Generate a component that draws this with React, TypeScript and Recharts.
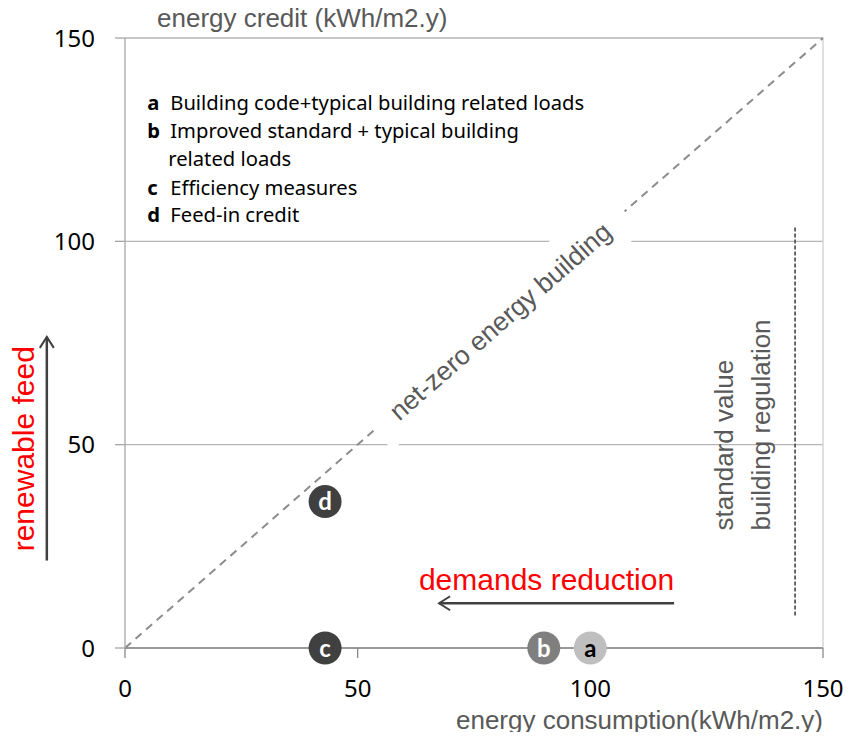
import { CartesianGrid, ReferenceDot, ReferenceLine, Scatter, ScatterChart, XAxis, YAxis } from "recharts";

// the four building cases
const cases = ["a", "b", "c", "d"];
const consumption = [100, 90, 43, 43]; // kWh/m2.y
const credit = [0, 0, 0, 36]; // kWh/m2.y

const xTicks = [0, 50, 100, 150];
const yTicks = [0, 50, 100, 150];

const legendKeys = ["a", "b", "", "c", "d"];
const legendTexts = [
  "Building code+typical building related loads",
  "Improved standard + typical building",
  "related loads",
  "Efficiency measures",
  "Feed-in credit",
];

// annotation anchors (data units)
const netZeroFrom = { x: 0, y: 0 };
const netZeroTo = { x: 150, y: 150 };
const netZeroLabelAt = 80.5;
const regulationX = 144;
const regulationRange = [8, 103.5];
const demandArrow = { from: 118, to: 67.5, y: 11 };
const feedArrow = { x: -16.8, from: 21.5, to: 76.5 };

const caseStyle: Record<string, { fill: string; text: string }> = {
  a: { fill: "#bfbfbf", text: "#000" },
  b: { fill: "#7f7f7f", text: "#fff" },
  c: { fill: "#404040", text: "#fff" },
  d: { fill: "#404040", text: "#fff" },
};

const data = cases.map((k, i) => ({ label: k, x: consumption[i], y: credit[i] }));

const sans = "'Liberation Sans', Arial, sans-serif";
const GRAY_TEXT = "#595959";

function CaseDot(props: any) {
  const { cx, cy, payload } = props;
  const s = caseStyle[payload.label];
  return (
    <g>
      <circle cx={cx} cy={cy} r={16.5} fill={s.fill} />
      <text
        x={cx}
        y={cy}
        dy="0.36em"
        textAnchor="middle"
        fill={s.text}
        fontFamily="Lato, sans-serif"
        fontWeight={700}
        fontSize={24}
      >
        {payload.label}
      </text>
    </g>
  );
}

function arrowHead(x: number, y: number, dx: number, dy: number) {
  // open chevron pointing in direction (dx, dy)
  const len = 11;
  const w = 7;
  const bx = x - dx * len;
  const by = y - dy * len;
  return `M${bx - dy * w},${by + dx * w} L${x},${y} L${bx + dy * w},${by - dx * w}`;
}

export default function App() {
  return (
    // pull the chart over the body margin so the texts near the edges have room
    <div style={{ margin: -8 }}>
      <ScatterChart
        width={862}
        height={740}
        margin={{ top: 38, right: 39, bottom: 0, left: 65 }}
        style={{ fontFamily: sans }}
      >
        <CartesianGrid vertical={false} stroke="#b5b5b5" strokeWidth={1.3} />
        <XAxis
          type="number"
          dataKey="x"
          domain={[0, 150]}
          ticks={xTicks}
          height={92}
          tickSize={10}
          tickMargin={22}
          axisLine={{ stroke: "#8a8a8a", strokeWidth: 1.3 }}
          tickLine={{ stroke: "#8a8a8a", strokeWidth: 1.3 }}
          tick={{ fill: "#000", fontSize: 24, fontFamily: "'Noto Sans', sans-serif" }}
          label={{
            content: ({ viewBox }: any) => (
              <text
                x={viewBox.x + viewBox.width}
                y={viewBox.y + 81}
                textAnchor="end"
                fill={GRAY_TEXT}
                fontSize={26}
                fontFamily={sans}
              >
                energy consumption(kWh/m2.y)
              </text>
            ),
          }}
        />
        <YAxis
          type="number"
          dataKey="y"
          domain={[0, 150]}
          ticks={yTicks}
          width={60}
          tickSize={10}
          tickMargin={20}
          axisLine={{ stroke: "#a6a6a6", strokeWidth: 1.3 }}
          tickLine={{ stroke: "#a6a6a6", strokeWidth: 1.3 }}
          tick={{ fill: "#000", fontSize: 24, fontFamily: "'Noto Sans', sans-serif" }}
          label={{
            content: ({ viewBox }: any) => (
              <text
                x={viewBox.x + viewBox.width + 32}
                y={viewBox.y - 11}
                fill={GRAY_TEXT}
                fontSize={26}
                fontFamily={sans}
              >
                energy credit (kWh/m2.y)
              </text>
            ),
          }}
        />

        {/* plot frame, right side */}
        <ReferenceLine x={150} stroke="#d0d0d0" strokeWidth={1.3} />

        {/* net-zero diagonal */}
        <ReferenceLine
          segment={[netZeroFrom, netZeroTo]}
          stroke="#8c8c8c"
          strokeWidth={2}
          strokeDasharray="8 6"
        />
        <ReferenceDot
          x={netZeroLabelAt}
          y={netZeroLabelAt}
          r={0}
          shape={(p: any) => {
            const angle = (-Math.atan2(610, 698) * 180) / Math.PI;
            return (
              <g transform={`rotate(${angle} ${p.cx} ${p.cy})`}>
                <rect x={p.cx - 166} y={p.cy - 27} width={332} height={54} fill="#fff" />
                <text
                  x={p.cx}
                  y={p.cy}
                  dy="0.38em"
                  textAnchor="middle"
                  fill={GRAY_TEXT}
                  fontSize={26.5}
                  fontFamily={sans}
                >
                  net-zero energy building
                </text>
              </g>
            );
          }}
        />

        {/* building regulation standard */}
        <ReferenceLine
          segment={[
            { x: regulationX, y: regulationRange[0] },
            { x: regulationX, y: regulationRange[1] },
          ]}
          stroke="#595959"
          strokeWidth={1.8}
          strokeDasharray="4 2"
          shape={(p: any) => (
            <g>
              <line
                x1={p.x1}
                y1={p.y1}
                x2={p.x2}
                y2={p.y2}
                stroke={p.stroke}
                strokeWidth={p.strokeWidth}
                strokeDasharray={p.strokeDasharray}
              />
              <text
                transform={`translate(${p.x1 - 62} ${p.y1 - 85}) rotate(-90)`}
                fill={GRAY_TEXT}
                fontSize={26}
                fontFamily={sans}
              >
                standard  value
              </text>
              <text
                transform={`translate(${p.x1 - 25} ${p.y1 - 85}) rotate(-90)`}
                fill={GRAY_TEXT}
                fontSize={26}
                fontFamily={sans}
              >
                building regulation
              </text>
            </g>
          )}
        />

        {/* demands reduction arrow */}
        <ReferenceLine
          segment={[
            { x: demandArrow.from, y: demandArrow.y },
            { x: demandArrow.to, y: demandArrow.y },
          ]}
          stroke="#404040"
          strokeWidth={2.5}
          shape={(p: any) => (
            <g>
              <line x1={p.x1} y1={p.y1} x2={p.x2} y2={p.y2} stroke={p.stroke} strokeWidth={p.strokeWidth} />
              <path d={arrowHead(p.x2, p.y2, -1, 0)} fill="none" stroke={p.stroke} strokeWidth={2} />
              <text x={p.x1} y={p.y1 - 13} textAnchor="end" fill="#ff0000" fontSize={30} fontFamily={sans}>
                demands reduction
              </text>
            </g>
          )}
        />

        {/* renewable feed arrow */}
        <ReferenceLine
          ifOverflow="visible"
          segment={[
            { x: feedArrow.x, y: feedArrow.from },
            { x: feedArrow.x, y: feedArrow.to },
          ]}
          stroke="#404040"
          strokeWidth={2.5}
          shape={(p: any) => {
            const mx = p.x1;
            const my = (p.y1 + p.y2) / 2;
            return (
              <g>
                <line x1={p.x1} y1={p.y1} x2={p.x2} y2={p.y2} stroke={p.stroke} strokeWidth={p.strokeWidth} />
                <path d={arrowHead(p.x2, p.y2, 0, -1)} fill="none" stroke={p.stroke} strokeWidth={2} />
                <text
                  transform={`translate(${mx - 13} ${my}) rotate(-90)`}
                  textAnchor="middle"
                  fill="#ff0000"
                  fontSize={30}
                  fontFamily={sans}
                >
                  renewable feed
                </text>
              </g>
            );
          }}
        />

        {/* case descriptions */}
        <ReferenceDot
          x={5}
          y={150}
          r={0}
          shape={(p: any) => (
            <g fontFamily="'Noto Sans', sans-serif" fontSize={20.2} fill="#000">
              {legendTexts.map((t, i) => {
                const y = p.cy + 72 + [0, 28, 56, 85, 112][i];
                return (
                  <g key={i}>
                    {legendKeys[i] ? (
                      <text x={p.cx - 1} y={y} fontWeight={700}>
                        {legendKeys[i]}
                      </text>
                    ) : null}
                    <text x={p.cx + (legendKeys[i] ? 22 : 20)} y={y}>
                      {t}
                    </text>
                  </g>
                );
              })}
            </g>
          )}
        />

        <Scatter data={data} shape={CaseDot} isAnimationActive={false} />
      </ScatterChart>
    </div>
  );
}
